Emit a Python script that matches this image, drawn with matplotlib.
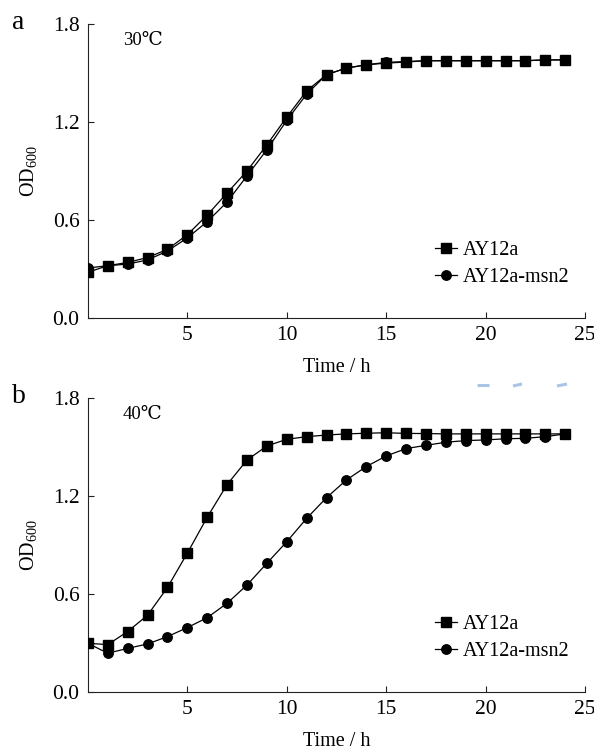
import matplotlib
matplotlib.use("Agg")
import matplotlib.pyplot as plt
from matplotlib.lines import Line2D

plt.rcParams['font.family'] = ['Liberation Serif', 'DejaVu Serif', 'Noto Sans CJK SC']
plt.rcParams['mathtext.fontset'] = 'custom'
plt.rcParams['mathtext.rm'] = 'Liberation Serif'
plt.rcParams['mathtext.it'] = 'Liberation Serif:italic'

hours = list(range(0, 25))
series_names = ["AY12a", "AY12a-msn2"]

# Panel a, 30 ℃
a_ay12a = [0.28, 0.32, 0.34, 0.37, 0.42, 0.51, 0.63, 0.765, 0.90, 1.06, 1.23, 1.39,
           1.49, 1.53, 1.55, 1.56, 1.567, 1.575, 1.575, 1.575, 1.575, 1.575, 1.575, 1.58, 1.58]
a_msn2 = [0.306, 0.32, 0.33, 0.355, 0.41, 0.49, 0.59, 0.71, 0.87, 1.03, 1.21, 1.37,
          1.49, 1.53, 1.55, 1.565, 1.57, 1.575, 1.575, 1.575, 1.575, 1.575, 1.575, 1.58, 1.58]

# Panel b, 40 ℃
b_ay12a = [0.298, 0.29, 0.37, 0.47, 0.64, 0.85, 1.07, 1.27, 1.42, 1.506, 1.547, 1.563,
           1.573, 1.58, 1.584, 1.587, 1.583, 1.582, 1.58, 1.58, 1.58, 1.58, 1.58, 1.58, 1.58]
b_msn2 = [0.298, 0.237, 0.267, 0.294, 0.339, 0.394, 0.455, 0.543, 0.655, 0.788, 0.92, 1.063,
          1.19, 1.298, 1.38, 1.445, 1.49, 1.51, 1.529, 1.539, 1.543, 1.55, 1.553, 1.563, 1.58]

yticks = [0.0, 0.6, 1.2, 1.8]
xticks = [5, 10, 15, 20, 25]

W, H = 594, 751
fig = plt.figure(figsize=(W / 100, H / 100), dpi=100)

panels = [
    ("a", "30\u2103", a_ay12a, a_msn2, [0.148, 0.5766, 0.837, 0.3915]),
    ("b", "40\u2103", b_ay12a, b_msn2, [0.148, 0.0786, 0.837, 0.3915]),
]

for letter, temp, s1, s2, rect in panels:
    ax = fig.add_axes(rect)
    ax.plot(hours, s1, color='black', lw=0.9, marker='s', ms=6.5, label=series_names[0], zorder=3)
    ax.plot(hours, s2, color='black', lw=0.9, marker='o', ms=6.8, label=series_names[1], zorder=3)
    ax.set_xlim(0, 25)
    ax.set_ylim(0, 1.8)
    ax.set_xticks(xticks)
    ax.set_yticks(yticks)
    ax.set_yticklabels([f"{v:.1f}" for v in yticks])
    for s in ['top', 'right']:
        ax.spines[s].set_visible(False)
    for s in ['left', 'bottom']:
        ax.spines[s].set_linewidth(0.8)
        ax.spines[s].set_color('#222222')
    ax.tick_params(direction='in', length=4, width=0.8, labelsize=15.5, pad=6, colors='#222222',
                   labelcolor='black')
    ax.set_xlabel("Time / h", fontsize=14.5, labelpad=9)
    ax.set_ylabel("OD$_{600}$", fontsize=14.5, labelpad=10)
    ax.text(0.07, 0.945, temp, transform=ax.transAxes, fontsize=13.5, ha='left', va='center')
    ax.legend(loc='upper left', bbox_to_anchor=(0.698, 0.262), frameon=False,
              fontsize=14.5, handlelength=1.1, handletextpad=0.3, labelspacing=0.38,
              borderaxespad=0, borderpad=0)
    fig.text(12 / W, rect[1] + rect[3] + 0.002, letter, fontsize=20, ha='left', va='center')

# light blue scan marks
for x0, x1, y0, y1 in [(477, 489, 385, 385), (513, 522, 386, 384), (557, 567, 386, 384)]:
    fig.add_artist(Line2D([x0 / W, x1 / W], [1 - y0 / H, 1 - y1 / H], color='#a9c4e4', lw=2.2,
                          solid_capstyle='butt'))

fig.savefig("out.png", dpi=100)
